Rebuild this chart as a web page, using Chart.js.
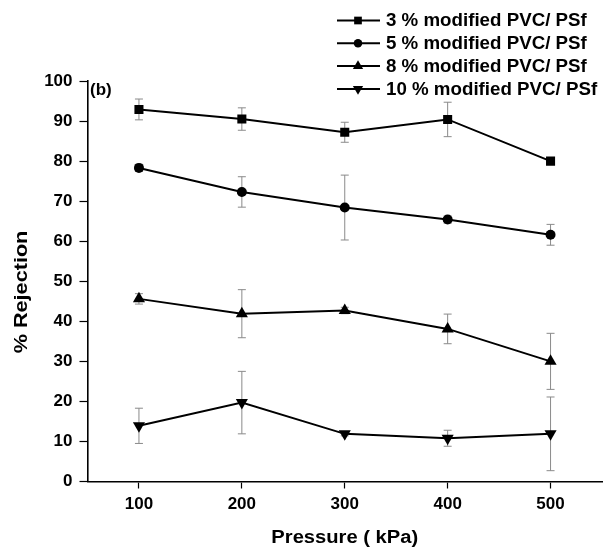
<!DOCTYPE html>
<html>
<head>
<meta charset="utf-8">
<script src="https://cdn.jsdelivr.net/npm/chart.js"></script>
<style>
  body { margin: 0; background: #fff; }
  #chart { display: block; }
</style>
</head>
<body>
<canvas id="chart" width="613" height="547"></canvas>
<script>
// pressure (kPa) on x, % rejection on y
const pressure = [100, 200, 300, 400, 500];
const names = [
  "3 % modified PVC/ PSf",
  "5 % modified PVC/ PSf",
  "8 % modified PVC/ PSf",
  "10 % modified PVC/ PSf",
];
const rej3 = [92.9, 90.5, 87.2, 90.4, 80.0];
const err3 = [2.6, 2.8, 2.5, 4.3, 0];
const rej5 = [78.3, 72.3, 68.4, 65.4, 61.6];
const err5 = [0.9, 3.8, 8.1, 0.9, 2.6];
const rej8 = [45.6, 41.9, 42.7, 38.1, 30.0];
const err8 = [1.3, 6.0, 0.8, 3.7, 7.0];
const rej10 = [13.9, 19.7, 11.9, 10.8, 11.9];
const err10 = [4.4, 7.8, 0.5, 2.0, 9.2];
const xTicks = [100, 200, 300, 400, 500];
const yTicks = [0, 10, 20, 30, 40, 50, 60, 70, 80, 90, 100];
const xTitle = "Pressure ( kPa)";
const yTitle = "% Rejection";

const FONT = "'Liberation Sans', Arial, sans-serif";
const errs = [err3, err5, err8, err10];
const markers = [
  { style: "rect", r: 6.4, rot: 0 },
  { style: "circle", r: 5, rot: 0 },
  { style: "triangle", r: 7, rot: 0 },
  { style: "triangle", r: 7, rot: 180 },
];

function pts(vals) {
  return pressure.map((p, i) => ({ x: p, y: vals[i] }));
}

function drawMarker(ctx, m, x, y, scale) {
  const r = m.r * scale;
  ctx.beginPath();
  if (m.style === "rect") {
    const s = Math.SQRT1_2 * r;
    ctx.rect(x - s, y - s, 2 * s, 2 * s);
  } else if (m.style === "circle") {
    ctx.arc(x, y, r, 0, Math.PI * 2);
  } else {
    const d = m.rot ? -1 : 1;
    ctx.moveTo(x, y - d * r);
    ctx.lineTo(x + Math.sin(Math.PI * 2 / 3) * r, y + d * r / 2);
    ctx.lineTo(x - Math.sin(Math.PI * 2 / 3) * r, y + d * r / 2);
    ctx.closePath();
  }
  ctx.fill();
}

// text stretched along its own direction, like the scanned figure
function stretchText(ctx, txt, x, y, rot, sx) {
  ctx.save();
  ctx.translate(x, y);
  ctx.rotate(rot);
  ctx.scale(sx, 1);
  ctx.fillText(txt, 0, 0);
  ctx.restore();
}

const errorBars = {
  id: "errorBars",
  beforeDatasetsDraw(chart) {
    const { ctx, scales } = chart;
    ctx.save();
    ctx.strokeStyle = "#8a8a8a";
    ctx.lineWidth = 1;
    chart.data.datasets.forEach((ds, di) => {
      ds.data.forEach((pt, i) => {
        const e = errs[di][i];
        if (!e) return;
        const x = scales.x.getPixelForValue(pt.x);
        const y1 = scales.y.getPixelForValue(pt.y + e);
        const y2 = scales.y.getPixelForValue(pt.y - e);
        ctx.beginPath();
        ctx.moveTo(x, y1); ctx.lineTo(x, y2);
        ctx.moveTo(x - 4, y1); ctx.lineTo(x + 4, y1);
        ctx.moveTo(x - 4, y2); ctx.lineTo(x + 4, y2);
        ctx.stroke();
      });
    });
    ctx.restore();
  },
};

const legendAndLabels = {
  id: "legendAndLabels",
  afterDraw(chart) {
    const { ctx, chartArea } = chart;
    ctx.save();
    ctx.fillStyle = "#000";
    ctx.strokeStyle = "#000";
    ctx.textBaseline = "middle";
    ctx.textAlign = "left";
    ctx.font = "bold 17px " + FONT;
    ctx.fillText("(b)", 90, 90);

    // axis titles
    ctx.textAlign = "center";
    ctx.font = "bold 18px " + FONT;
    stretchText(ctx, xTitle, (chartArea.left + chartArea.right) / 2, 538, 0, 1.12);
    ctx.font = "bold 18.5px " + FONT;
    stretchText(ctx, yTitle, 22, 292, -Math.PI / 2, 1.17);

    // legend
    ctx.textAlign = "left";
    ctx.font = "bold 18px " + FONT;
    names.forEach((n, i) => {
      const y = 20.5 + i * 22.8;
      ctx.lineWidth = 2;
      ctx.beginPath();
      ctx.moveTo(337, y);
      ctx.lineTo(380, y);
      ctx.stroke();
      drawMarker(ctx, markers[i], 358, y, 0.85);
      stretchText(ctx, n, 386, y + 1, 0, 1.04);
    });
    ctx.restore();
  },
};

new Chart(document.getElementById("chart").getContext("2d"), {
  type: "line",
  data: {
    datasets: [rej3, rej5, rej8, rej10].map((v, i) => ({
      label: names[i],
      data: pts(v),
      borderColor: "#000",
      backgroundColor: "#000",
      borderWidth: 2,
      pointStyle: markers[i].style,
      pointRadius: markers[i].r,
      pointRotation: markers[i].rot,
      pointBorderWidth: 0,
      tension: 0,
    })),
  },
  options: {
    responsive: false,
    animation: false,
    layout: { padding: { top: 81, right: 11, left: 0, bottom: 0 } },
    plugins: { legend: { display: false }, tooltip: { enabled: false } },
    scales: {
      x: {
        type: "linear",
        min: 50,
        max: 550,
        afterBuildTicks: (s) => { s.ticks = xTicks.map((v) => ({ value: v })); },
        afterFit: (s) => { s.height = 65.5; },
        border: { display: true, color: "#000", width: 1.6 },
        grid: { drawOnChartArea: false, color: "#000", tickLength: 7, tickWidth: 1.2 },
        ticks: {
          color: "#000",
          padding: 6,
          font: { family: FONT, size: 17, weight: "bold" },
        },
      },
      y: {
        min: 0,
        max: 100,
        afterBuildTicks: (s) => { s.ticks = yTicks.map((v) => ({ value: v })); },
        afterFit: (s) => { s.width = 87.5; },
        border: { display: true, color: "#000", width: 1.6 },
        grid: { drawOnChartArea: false, color: "#000", tickLength: 8, tickWidth: 1.2 },
        ticks: {
          color: "#000",
          padding: 7,
          font: { family: FONT, size: 17, weight: "bold" },
        },
      },
    },
  },
  plugins: [errorBars, legendAndLabels],
});
</script>
</body>
</html>
